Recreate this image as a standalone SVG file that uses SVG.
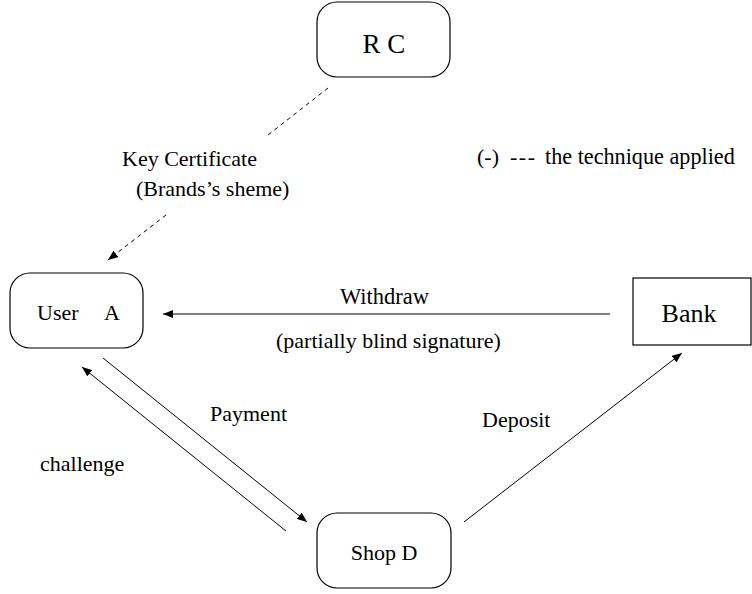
<svg xmlns="http://www.w3.org/2000/svg" width="752" height="594" viewBox="0 0 752 594" font-family="'Liberation Serif', 'DejaVu Serif', serif">
<style>
text{font-family:'Liberation Serif','DejaVu Serif',serif;fill:#000;font-size:22px}
.box{fill:#fff;stroke:#000;stroke-width:1.2}
.ln{stroke:#000;stroke-width:1;fill:none}
.dash{stroke-dasharray:4 4}
</style>
<defs>
<marker id="ah" markerUnits="userSpaceOnUse" markerWidth="12" markerHeight="8" refX="10" refY="4" orient="auto">
<path d="M0,0 L10,4 L0,8 Z" fill="#000"/>
</marker>
</defs>
<rect width="752" height="594" fill="#fff"/>
<g id="connectors">
<line class="ln dash" x1="328" y1="88" x2="268" y2="135"/>
<line class="ln dash" x1="166" y1="215" x2="108" y2="260" marker-end="url(#ah)"/>
<line class="ln" x1="610" y1="314" x2="163" y2="314" marker-end="url(#ah)"/>
<line class="ln" x1="103" y1="358" x2="307" y2="522" marker-end="url(#ah)"/>
<line class="ln" x1="286" y1="531" x2="82" y2="367" marker-end="url(#ah)"/>
<line class="ln" x1="464" y1="522" x2="682" y2="353" marker-end="url(#ah)"/>
</g>
<g id="labels">
<text x="122" y="166">Key Certificate</text>
<text x="136" y="196">(Brands’s sheme)</text>
<text x="477" y="164">(-)</text>
<text x="510" y="164" letter-spacing="1.5">---</text>
<text x="545" y="164" style="font-size:22.2px">the technique applied</text>
<text x="340" y="304" style="font-size:22.5px">Withdraw</text>
<text x="276" y="348">(partially blind signature)</text>
<text x="210" y="421">Payment</text>
<text x="482" y="427">Deposit</text>
<text x="40" y="471">challenge</text>
</g>
<g id="rc">
<rect class="box" x="317" y="2" width="133" height="75" rx="20"/>
<text x="384" y="53" text-anchor="middle" style="font-size:27px">R C</text>
</g>
<g id="user">
<rect class="box" x="10" y="273" width="133" height="75" rx="20"/>
<text x="37" y="320">User</text>
<text x="104" y="320">A</text>
</g>
<g id="bank">
<rect class="box" x="633" y="278" width="118" height="67"/>
<text x="689" y="322" text-anchor="middle" style="font-size:26px">Bank</text>
</g>
<g id="shop">
<rect class="box" x="317" y="513" width="134" height="75" rx="20"/>
<text x="384" y="560" text-anchor="middle">Shop D</text>
</g>
</svg>
